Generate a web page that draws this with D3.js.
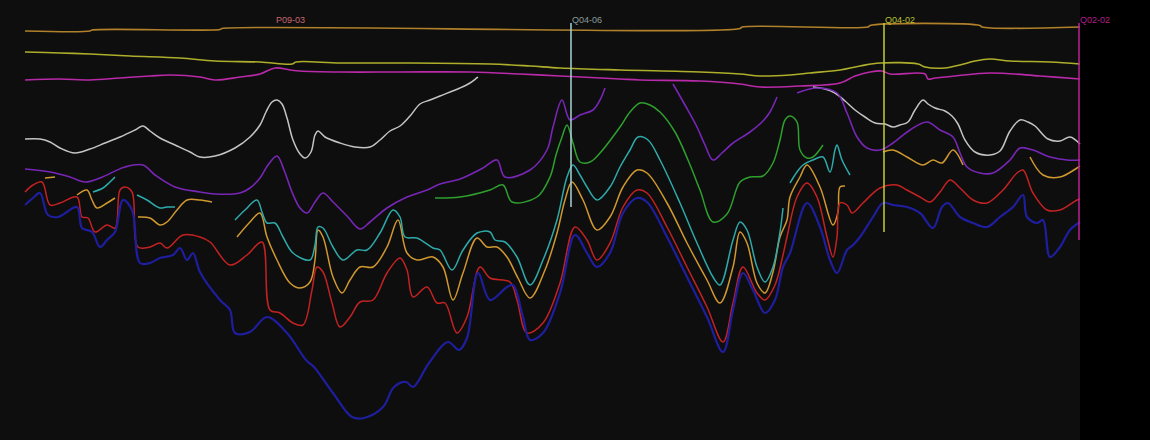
<!DOCTYPE html>
<html>
<head>
<meta charset="utf-8">
<script src="https://cdn.jsdelivr.net/npm/d3@7"></script>
<style>
  html, body { margin: 0; padding: 0; background: #0e0e0e; }
  #wrapper { width: 1150px; height: 440px; }
</style>
</head>
<body>
<div id="wrapper"></div>
<script>
/* horizons picked along the section: [trace, two-way time] pairs
   one array per segment, gaps where the pick was lost */
const topBrown = [[25,31],[90,31],[92,30],[220,29.5],[222,28.5],[740,28.5],[742,27],[868,27],[870,25.5],[980,25.5],[982,27],[1080,27]]

const yellowPick = [[25,52],[60,53],[90,54],[130,56],[180,58],[215,61],[260,62],[292,64],[296,62],[340,63],[400,63],[490,64],[530,66],[560,68],[620,70],[700,72],[740,74],[760,76],[790,75],[810,73],[840,70],[860,66],[880,63],[918,64],[925,67],[945,68],[960,65],[975,61],[990,59],[1010,61],[1050,62],[1080,64]]

const magentaPick = [[25,80],[60,79],[90,80],[120,78],[150,76],[170,75],[200,77],[215,80],[240,77],[260,74],[275,68],[290,70],[300,71],[340,72],[400,72],[470,72],[520,74],[560,76],[620,79],[640,80],[700,81],[740,84],[760,87],[800,86],[840,83],[855,76],[870,72],[882,71],[890,74],[925,74],[928,79],[935,78],[955,76],[990,73],[1040,76],[1080,79]]

const greyA = [[25,139],[40,139],[50,142],[60,148],[75,153],[90,149],[105,143],[120,137],[135,130],[143,126],[150,131],[160,138],[175,145],[190,152],[200,157],[215,156],[235,148],[250,137],[260,125],[266,112],[272,102],[277,100],[282,104],[287,118],[293,140],[300,154],[305,158],[311,152],[315,135],[318,131],[325,137],[340,143],[355,147],[370,147],[380,140],[390,131],[400,126],[410,116],[420,104],[430,100],[440,96],[460,88],[470,83],[478,77]]
const greyB = [[813,87],[825,89],[835,93],[845,101],[855,110],[865,117],[875,123],[885,124],[893,127],[900,125],[908,122],[915,110],[923,100],[928,104],[935,108],[945,111],[952,116],[958,124],[965,140],[975,152],[990,155],[1000,151],[1010,131],[1020,120],[1028,122],[1035,126],[1048,139],[1060,141],[1070,137],[1080,144]]

const purpleA = [[25,169],[50,172],[70,177],[85,182],[100,178],[125,167],[143,165],[155,175],[175,187],[200,192],[215,194],[240,193],[250,188],[260,178],[268,165],[277,156],[284,170],[292,192],[300,208],[307,213],[315,202],[323,193],[333,202],[347,216],[360,229],[370,222],[387,208],[407,197],[427,190],[440,184],[460,179],[483,168],[497,160],[505,177],[530,170],[547,150],[553,127],[562,100],[570,120],[580,115],[593,110],[600,100],[605,88]]
const purpleB = [[673,84],[685,105],[697,127],[705,145],[713,160],[722,153],[733,143],[750,132],[763,121],[770,112],[777,97]]
const purpleC = [[797,93],[817,88],[837,93],[847,113],[857,137],[867,148],[880,150],[893,143],[910,130],[927,122],[940,130],[953,137],[960,153],[967,167],[980,173],[993,173],[1010,160],[1020,148],[1033,150],[1050,157],[1067,160],[1080,160]]

const greenPick = [[435,198],[460,197],[490,190],[503,185],[512,202],[537,197],[550,177],[556,155],[562,137],[567,125],[573,143],[580,162],[590,162],[600,153],[620,127],[630,112],[640,103],[650,105],[660,112],[675,132],[688,160],[700,190],[713,222],[727,214],[740,182],[750,177],[763,176],[773,163],[780,140],[785,120],[790,116],[797,122],[800,150],[807,158],[813,157],[823,145]]

const cyanA = [[93,192],[103,188],[110,182],[115,177]]
const cyanB = [[137,195],[147,200],[160,208],[167,207],[175,207]]
const cyanC = [[235,220],[245,210],[257,200],[262,212],[267,223],[275,223],[283,237],[293,253],[310,260],[315,245],[318,227],[323,228],[333,247],[343,260],[357,250],[367,250],[380,233],[393,210],[400,217],[405,237],[417,238],[433,248],[440,250],[452,270],[463,250],[477,233],[490,232],[495,240],[505,242],[517,257],[530,285],[543,260],[557,220],[567,177],[573,165],[580,175],[587,187],[597,200],[610,187],[620,167],[630,150],[638,137],[648,140],[660,160],[680,203],[697,243],[713,277],[720,285],[733,240],[740,222],[747,230],[757,267],[765,282],[773,267],[780,232],[783,208]]
const cyanD = [[790,183],[797,172],[803,165],[813,160],[823,157],[830,172],[835,150],[837,145],[842,160],[850,175]]

const orangeA = [[45,178],[55,177]]
const orangeB = [[77,195],[87,190],[92,200],[97,208],[107,203],[115,198]]
const orangeC = [[138,217],[150,218],[160,225],[167,222],[177,210],[187,200],[200,200],[212,202]]
const orangeD = [[237,237],[250,222],[260,213],[267,237],[277,260],[290,283],[300,288],[310,282],[315,260],[318,230],[323,237],[333,277],[342,293],[350,280],[360,267],[373,267],[387,247],[398,220],[407,253],[417,260],[433,257],[443,267],[453,300],[463,273],[477,238],[487,247],[497,247],[507,257],[518,278],[530,298],[545,270],[557,233],[565,200],[572,182],[583,200],[597,230],[610,217],[623,187],[637,170],[647,173],[667,203],[687,243],[707,280],[720,303],[733,267],[740,232],[747,243],[757,283],[765,293],[773,272],[780,237],[787,220],[790,197],[800,177],[807,165],[820,187],[833,225],[838,212],[840,187],[845,186]]
const orangeE = [[883,152],[893,150],[907,157],[923,165],[933,160],[942,163],[953,150],[963,165]]
const orangeF = [[1030,157],[1043,175],[1060,177],[1077,168],[1080,166]]

const redPick = [[25,192],[33,185],[42,182],[50,205],[60,203],[77,197],[82,217],[88,218],[95,232],[107,225],[115,228],[120,190],[125,187],[132,192],[138,247],[150,247],[160,243],[167,248],[183,235],[200,237],[210,242],[230,265],[247,255],[262,242],[270,310],[280,313],[293,323],[303,325],[312,290],[317,267],[323,272],[332,303],[340,327],[350,317],[360,302],[373,300],[387,273],[400,258],[407,270],[413,297],[427,287],[437,303],[445,303],[457,333],[467,317],[480,267],[490,278],[510,282],[517,300],[527,333],[543,323],[560,283],[575,227],[587,240],[597,260],[610,243],[623,207],[637,190],[647,193],[667,227],[687,267],[707,307],[723,342],[733,303],[743,267],[757,293],[765,300],[775,285],[783,255],[787,237],[797,197],[807,183],[817,197],[827,237],[833,257],[837,237],[840,203],[847,205],[852,213],[863,203],[880,188],[897,185],[907,190],[920,197],[930,202],[940,192],[950,180],[960,188],[973,200],[987,203],[1003,190],[1017,173],[1023,170],[1033,193],[1047,210],[1060,210],[1077,200],[1080,199]]

const bluePick = [[25,205],[33,198],[40,193],[48,215],[58,217],[77,207],[82,228],[92,232],[100,247],[107,240],[115,232],[123,200],[132,210],[140,263],[150,263],[160,258],[173,255],[180,248],[187,260],[193,253],[200,272],[220,300],[230,310],[235,333],[250,332],[267,317],[287,333],[306,360],[314,367],[333,393],[352,417],[364,418],[383,407],[394,387],[406,382],[413,387],[429,363],[448,342],[459,350],[467,338],[478,273],[490,300],[507,287],[513,285],[523,317],[530,340],[543,333],[560,293],[575,235],[587,253],[597,267],[610,253],[623,213],[637,198],[647,202],[667,237],[687,277],[707,317],[723,352],[733,310],[743,273],[753,290],[765,313],[775,300],[783,267],[790,253],[807,203],[820,227],[830,260],[837,273],[847,250],[853,245],[860,237],[873,217],[883,203],[893,205],[907,207],[920,213],[933,228],[942,207],[948,203],[960,217],[973,223],[987,227],[1000,217],[1013,207],[1023,195],[1027,217],[1037,223],[1043,220],[1050,257],[1060,247],[1070,230],[1080,222]]

/* wells crossed by the section */
const wellNames = ["P09-03", "Q04-06", "Q04-02", "Q02-02"]
const wellTrace = [275, 571, 884, 1079]
const wellTD = [null, 207, 232, 240]   // P09-03 only projected, no pick drawn

function drawSection() {
/*step 1: dimensions*/
	let dimensions = {
		width: 1150,
		height: 440,
		sectionEnd: 1080,
	}

/*step 2: canvas*/
	const wrapper = d3.select("#wrapper")
		.append("svg")
		.attr("width", dimensions.width)
		.attr("height", dimensions.height)
		.style("display", "block")

	wrapper.append("rect")
		.attr("width", dimensions.width)
		.attr("height", dimensions.height)
		.attr("fill", "#0e0e0e")

/*step 3: scales (trace -> px, time -> px)*/
	const xScale = d3.scaleLinear()
		.domain([0, 1150])
		.range([0, dimensions.width])
	const yScale = d3.scaleLinear()
		.domain([0, 440])
		.range([0, dimensions.height])

	// the area right of the last trace is empty
	wrapper.append("rect")
		.attr("x", xScale(dimensions.sectionEnd))
		.attr("width", dimensions.width - xScale(dimensions.sectionEnd))
		.attr("height", dimensions.height)
		.attr("fill", "#000")

/*step 4: horizons*/
	const horizons = [
		{ segs: [topBrown], color: "#b0802a", w: 1.6 },
		{ segs: [yellowPick], color: "#aeae2c", w: 1.6 },
		{ segs: [magentaPick], color: "#b82aa8", w: 1.6 },
		{ segs: [greyA, greyB], color: "#c4c4c4", w: 1.5 },
		{ segs: [purpleA, purpleB, purpleC], color: "#7826b6", w: 1.6 },
		{ segs: [greenPick], color: "#2ea02e", w: 1.5 },
		{ segs: [orangeA, orangeB, orangeC, orangeD, orangeE, orangeF], color: "#d0982e", w: 1.5 },
		{ segs: [cyanA, cyanB, cyanC, cyanD], color: "#2eaaaa", w: 1.5 },
		{ segs: [redPick], color: "#c42222", w: 1.5 },
		{ segs: [bluePick], color: "#1e1e9e", w: 2.2 },
	]

	const line = d3.line()
		.x(d => xScale(d[0]))
		.y(d => yScale(d[1]))
		.curve(d3.curveCatmullRom.alpha(0.5))

	const bounds = wrapper.append("g")
	horizons.forEach(h => {
		bounds.append("g")
			.selectAll("path")
			.data(h.segs)
			.enter().append("path")
			.attr("d", line)
			.attr("fill", "none")
			.attr("stroke", h.color)
			.attr("stroke-width", h.w)
			.attr("stroke-linejoin", "round")
	})

/*step 5: wells + labels*/
	const wellColors = ["#c86870", "#a8d4d4", "#c0cc3a", "#b82090"]
	const labelColors = ["#c86870", "#8a9c9c", "#b8c030", "#b01e88"]
	const wells = wrapper.append("g")
	wellNames.forEach((name, i) => {
		if (wellTD[i] != null) {
			wells.append("line")
				.attr("x1", xScale(wellTrace[i]))
				.attr("x2", xScale(wellTrace[i]))
				.attr("y1", yScale(23))
				.attr("y2", yScale(wellTD[i]))
				.attr("stroke", wellColors[i])
				.attr("stroke-width", 1.5)
		}
		wells.append("text")
			.attr("x", xScale(wellTrace[i]) + 1)
			.attr("y", yScale(23))
			.attr("fill", labelColors[i])
			.style("font-family", "'Liberation Sans', Arial, sans-serif")
			.style("font-size", "9px")
			.text(name)
	})
}
drawSection();
</script>
</body>
</html>
